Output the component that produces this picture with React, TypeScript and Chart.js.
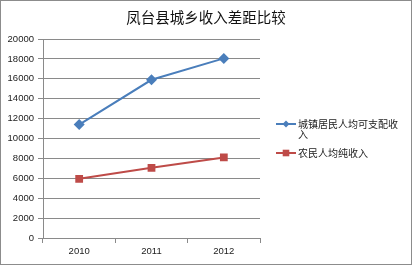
import React, { useEffect, useRef } from "react";
import { Chart, registerables } from "chart.js";

Chart.register(...registerables);

const TITLE = "凤台县城乡收入差距比较";
const YEARS = ["2010", "2011", "2012"];
const URBAN_LABEL = "城镇居民人均可支配收入";
const URBAN = [11400, 15900, 18050];
const RURAL_LABEL = "农民人均纯收入";
const RURAL = [5950, 7050, 8100];

const GRID = "#8a8a8a";
const BLUE = "#4a7ebb";
const RED = "#be4b48";
const CJK = "'Noto Sans CJK SC', sans-serif";
const NUM = "'Liberation Sans', Arial, sans-serif";

const titleLegendPlugin = {
  id: "titleLegend",
  afterDraw(chart: any) {
    const ctx = chart.ctx as CanvasRenderingContext2D;
    ctx.save();
    // title
    ctx.font = `14.5px ${CJK}`;
    ctx.fillStyle = "#111";
    ctx.textAlign = "center";
    ctx.textBaseline = "middle";
    ctx.fillText(TITLE, chart.width / 2, 16.5);

    // legend
    const x0 = 275;
    const textX = 297;
    const maxW = 102;
    const lineH = 10.5;
    let y = 123;
    ctx.font = `10px ${CJK}`;
    ctx.textBaseline = "middle";
    ctx.textAlign = "left";
    chart.data.datasets.forEach((ds: any) => {
      ctx.strokeStyle = ds.borderColor;
      ctx.lineWidth = 2;
      ctx.beginPath();
      ctx.moveTo(x0, y);
      ctx.lineTo(x0 + 20, y);
      ctx.stroke();
      ctx.fillStyle = ds.backgroundColor;
      ctx.beginPath();
      if (ds.pointStyle === "rect") {
        ctx.rect(x0 + 10 - 3.3, y - 3.3, 6.6, 6.6);
      } else {
        ctx.moveTo(x0 + 10, y - 3.5);
        ctx.lineTo(x0 + 13.5, y);
        ctx.lineTo(x0 + 10, y + 3.5);
        ctx.lineTo(x0 + 6.5, y);
        ctx.closePath();
      }
      ctx.fill();
      ctx.fillStyle = "#222";
      const lines: string[] = [];
      let cur = "";
      for (const ch of ds.label as string) {
        if (ctx.measureText(cur + ch).width > maxW && cur) {
          lines.push(cur);
          cur = ch;
        } else cur += ch;
      }
      if (cur) lines.push(cur);
      lines.forEach((ln, k) => ctx.fillText(ln, textX, y + k * lineH));
      y += lines.length * lineH + 8;
    });
    ctx.restore();
  },
};

export default function App() {
  const ref = useRef<HTMLCanvasElement>(null);
  useEffect(() => {
    if (!ref.current) return;
    const chart = new Chart(ref.current, {
      type: "line",
      data: {
        labels: YEARS,
        datasets: [
          {
            label: URBAN_LABEL,
            data: URBAN,
            borderColor: BLUE,
            backgroundColor: BLUE,
            borderWidth: 2,
            pointStyle: "rectRot",
            pointRadius: 5.5,
            pointBorderWidth: 0,
            tension: 0,
          },
          {
            label: RURAL_LABEL,
            data: RURAL,
            borderColor: RED,
            backgroundColor: RED,
            borderWidth: 2,
            pointStyle: "rect",
            pointRadius: 5.5,
            pointBorderWidth: 0,
            tension: 0,
          },
        ],
      },
      options: {
        responsive: false,
        animation: false,
        layout: { padding: { left: 0, right: 151, top: 38, bottom: 0 } },
        plugins: {
          legend: { display: false },
          tooltip: { enabled: false },
          title: { display: false },
        },
        scales: {
          x: {
            offset: true,
            grid: {
              offset: true,
              drawOnChartArea: false,
              drawTicks: true,
              tickLength: 5,
              color: GRID,
            },
            border: { color: GRID },
            ticks: {
              color: "#222",
              padding: 3,
              font: { family: NUM, size: 9.5 },
            },
            afterFit(scale: any) {
              scale.height = 26;
            },
          },
          y: {
            min: 0,
            max: 20000,
            ticks: {
              stepSize: 2000,
              color: "#222",
              padding: 4,
              font: { family: NUM, size: 9.5 },
              callback: (v: any) => String(v),
            },
            grid: { color: GRID, tickLength: 5 },
            border: { color: GRID },
            afterFit(scale: any) {
              scale.width = 42;
            },
          },
        },
      },
      plugins: [titleLegendPlugin],
    });
    return () => chart.destroy();
  }, []);
  return (
    <div
      style={{
        position: "fixed",
        left: 0,
        top: 0,
        width: 412,
        height: 265,
        boxSizing: "border-box",
        border: "1px solid #8c8c8c",
        background: "#fff",
      }}
    >
      <canvas ref={ref} width={410} height={263} style={{ display: "block" }} />
    </div>
  );
}
